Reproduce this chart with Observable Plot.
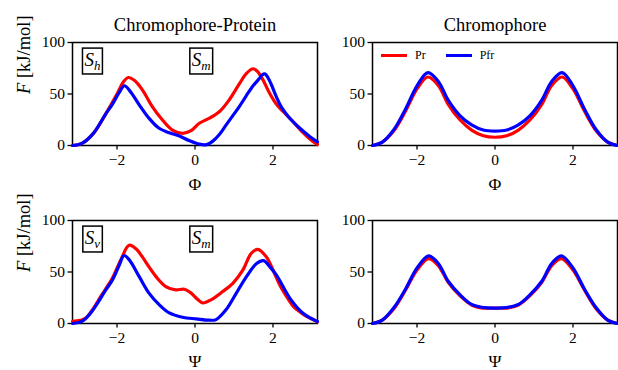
<!DOCTYPE html>
<html>
<head>
<meta charset="utf-8">
<script src="https://cdn.jsdelivr.net/npm/d3@7"></script>
<script src="https://cdn.jsdelivr.net/npm/@observablehq/plot@0.6"></script>
<style>
  html, body { margin: 0; padding: 0; background: #fff; }
  #chart { position: relative; width: 618px; height: 370px; font-family: "Liberation Serif", "DejaVu Serif", serif; }
  #chart svg { position: absolute; background: transparent !important; font-family: "Liberation Serif", "DejaVu Serif", serif !important; overflow: visible !important; }
  #chart svg text { font-family: "Liberation Serif", "DejaVu Serif", serif !important; }
  .legend { position: absolute; display: flex; align-items: center; font: 12px "Liberation Serif", serif; color: #000; line-height: 14px; }
  .legend .sw { display: inline-block; width: 26px; height: 3px; margin-right: 8px; }
  .legend .lab { margin-right: 20px; }
  #err { position: absolute; left: 0; top: 0; color: #c00; font: 10px monospace; white-space: pre; }
</style>
</head>
<body>
<div id="chart"></div>
<div id="err"></div>
<script>
// ---------------- data ----------------
const seriesNames = ["Pr", "Pfr"];
const seriesColors = ["#ff0000", "#0000ff"];
const columnTitles = ["Chromophore-Protein", "Chromophore"];
const rowAngles = ["Φ", "Ψ"];
const yLabel = "F [kJ/mol]";
const xTicks = [-2, 0, 2];
const yTicks = [0, 50, 100];

// Chromophore-Protein, Φ
const cpPhiPrX  = [-3.14,-2.9,-2.6,-2.3,-2.0,-1.85,-1.71,-1.55,-1.35,-1.1,-0.84,-0.58,-0.32,-0.1,0.11,0.37,0.63,0.88,1.14,1.32,1.49,1.6,1.74,1.91,2.09,2.26,2.52,2.77,3.03,3.14];
const cpPhiPrF  = [0,2,12,30,50,61,66,63,54,38,25,15,11.8,14.4,21.6,26.5,33,44.4,60,70,74.5,72,64,51,40,33,23,12.4,3.6,1];
const cpPhiPfrX = [-3.14,-2.9,-2.6,-2.3,-2.12,-1.95,-1.81,-1.65,-1.43,-1.18,-0.92,-0.66,-0.4,-0.14,0.11,0.3,0.45,0.63,0.8,0.97,1.14,1.31,1.49,1.65,1.72,1.79,1.87,1.96,2.09,2.22,2.43,2.69,2.95,3.14];
const cpPhiPfrF = [0,2,12,30,40,51,58,52,39.5,26.5,16.7,12.4,9.2,4.6,1.3,0.8,4,11,20,29,38,48,58,65,68.5,69.5,66,59,47,37,26.5,16.7,8.5,3.6];

// Chromophore, Φ
const cPhiX    = [-3.14,-2.9,-2.6,-2.3,-2.0,-1.72,-1.45,-1.2,-0.9,-0.6,-0.3,0,0.3,0.6,0.9,1.2,1.45,1.72,2.0,2.3,2.6,2.9,3.14];
const cPhiPrF  = [0,3,14,33,55,66.5,58,40,25,15,9.5,8,9.5,15,25,40,58,66.5,55,33,14,3,0];
const cPhiPfrF = [0,3,15,35,58,70.8,62,44,29,20,15,14,15,20,29,44,62,70.8,58,35,15,3,0];

// Chromophore-Protein, Ψ
const cpPsiPrX  = [-3.14,-2.95,-2.81,-2.6,-2.47,-2.3,-2.12,-1.9,-1.69,-1.5,-1.35,-1.18,-1.0,-0.75,-0.49,-0.27,-0.1,0.08,0.2,0.41,0.71,0.97,1.23,1.44,1.61,1.83,2.0,2.17,2.35,2.52,2.7,2.86,3.14];
const cpPsiPrF  = [2,3,5,15,23,33,44,62,76,72,64.7,55,45.5,35.9,32.7,33.3,29.5,23,19.9,23,31,39,52,68,72,64.7,52,37.5,26,16.7,11,7,1.6];
const cpPsiPfrX = [-3.14,-2.9,-2.7,-2.47,-2.3,-2.12,-1.95,-1.82,-1.69,-1.43,-1.18,-0.92,-0.66,-0.32,0.03,0.37,0.54,0.8,1.06,1.32,1.58,1.76,1.92,2.09,2.43,2.77,3.14];
const cpPsiPfrF = [0,2,9,21.5,32,42,56,66,62,45.5,29.5,18.3,10.3,6.1,4.5,3.2,3.8,13.5,29.5,45.5,58.3,61,55,47,24.7,10,2];

// Chromophore, Ψ
const cPsiX    = [-3.14,-2.9,-2.6,-2.3,-2.0,-1.7,-1.45,-1.2,-0.9,-0.6,-0.3,0,0.3,0.6,0.9,1.2,1.45,1.7,2.0,2.3,2.6,2.9,3.14];
const cPsiPrF  = [0,3,14,32,52,63,56,40,27,18,15,15,15,18,27,40,56,63,52,32,14,3,0];
const cPsiPfrF = [0,3,15,33,54,65.7,58,41,28,18.5,15.5,15,15.5,18.5,28,41,58,65.7,54,33,15,3,0];

// state annotations (boxed labels) in the Chromophore-Protein panels
const statePhiX = [-2.63, 0.16];
const statePhiF = [83, 83];
const statePhiSub = ["h", "m"];
const statePsiX = [-2.63, 0.16];
const statePsiF = [83, 83];
const statePsiSub = ["v", "m"];

// ---------------- helpers ----------------
function rows(xs, fs, name) { return xs.map((x, i) => ({x, f: fs[i], series: name})); }

const FONT = "Liberation Serif";
const fmtX = d => (d < 0 ? "\u2212" : "") + Math.abs(d);

function panel({data, title, angle, ylabel, states, top, left, height, marginTop, labelDy}) {
  const marks = [
    Plot.frame({stroke: "black", strokeWidth: 1.5}),
    Plot.axisX({ticks: xTicks, tickFormat: fmtX, tickSize: 4.5, tickPadding: 4, fontSize: 15.5, label: null, strokeWidth: 1.3, fontFamily: FONT}),
    Plot.axisY({ticks: yTicks, tickSize: 4.5, tickPadding: 3, fontSize: 15.5, label: null, strokeWidth: 1.3, fontFamily: FONT}),
    Plot.line(data, {x: "x", y: "f", z: "series", stroke: "series", strokeWidth: 3.2, curve: "catmull-rom"}),
    Plot.text([angle], {frameAnchor: "bottom", dy: labelDy, fontSize: 17.5, lineAnchor: "middle", fontFamily: FONT})
  ];
  if (title) marks.push(Plot.text([title], {frameAnchor: "top", dy: -17, fontSize: 18.5, lineAnchor: "middle", fontFamily: FONT}));
  if (ylabel) marks.push(Plot.text([ylabel], {frameAnchor: "left", dx: -48, rotate: -90, fontSize: 18.5, lineAnchor: "middle", fontFamily: FONT}));
  if (states) marks.push(Plot.text(states, {x: "x", y: "f", text: d => "S_" + d.sub, fontSize: 19, lineAnchor: "middle", fontFamily: FONT}));
  const svg = Plot.plot({
    width: 318, height, marginLeft: 72, marginRight: 1, marginTop, marginBottom: height - marginTop - 103,
    x: {domain: [-Math.PI, Math.PI]},
    y: {domain: [0, 100]},
    color: {domain: seriesNames, range: seriesColors},
    marks
  });
  svg.style.left = left + "px";
  svg.style.top = top + "px";
  svg.style.background = "transparent";
  document.getElementById("chart").appendChild(svg);
  d3.select(svg).selectAll("text").each(function () {
    const t = d3.select(this);
    const txt = this.textContent;
    if (txt === yLabel) {
      t.text(null);
      t.append("tspan").attr("font-style", "italic").text("F");
      t.append("tspan").style("white-space", "pre").text(" [kJ/mol]");
    } else {
      const m = /^S_(\w)$/.exec(txt);
      if (!m) return;
      t.text(null);
      t.append("tspan").attr("font-style", "italic").text("S");
      t.append("tspan").attr("font-style", "italic").attr("font-size", "0.68em").attr("dy", "0.3em").text(m[1]);
      const b = this.getBBox();
      const pad = 2;
      const r = document.createElementNS("http://www.w3.org/2000/svg", "rect");
      this.parentNode.insertBefore(r, this);
      d3.select(r)
        .attr("transform", t.attr("transform"))
        .attr("x", b.x - pad).attr("y", b.y - pad + 1)
        .attr("width", b.width + 2 * pad).attr("height", b.height + 2 * pad - 2)
        .attr("fill", "white").attr("stroke", "black").attr("stroke-width", 1.5);
    }
  });
  return svg;
}

try {
  const cpPhi = rows(cpPhiPrX, cpPhiPrF, "Pr").concat(rows(cpPhiPfrX, cpPhiPfrF, "Pfr"));
  const cPhi  = rows(cPhiX, cPhiPrF, "Pr").concat(rows(cPhiX, cPhiPfrF, "Pfr"));
  const cpPsi = rows(cpPsiPrX, cpPsiPrF, "Pr").concat(rows(cpPsiPfrX, cpPsiPfrF, "Pfr"));
  const cPsi  = rows(cPsiX, cPsiPrF, "Pr").concat(rows(cPsiX, cPsiPfrF, "Pfr"));

  const statesPhi = statePhiX.map((x, i) => ({x, f: statePhiF[i], sub: statePhiSub[i]}));
  const statesPsi = statePsiX.map((x, i) => ({x, f: statePsiF[i], sub: statePsiSub[i]}));

  panel({data: cpPhi, title: columnTitles[0], angle: rowAngles[0], ylabel: yLabel, states: statesPhi, top: 0, left: 0, height: 190, marginTop: 42, labelDy: 39});
  panel({data: cPhi, title: columnTitles[1], angle: rowAngles[0], top: 0, left: 300, height: 190, marginTop: 42, labelDy: 39});
  panel({data: cpPsi, angle: rowAngles[1], ylabel: yLabel, states: statesPsi, top: 185, left: 0, height: 185, marginTop: 35, labelDy: 38});
  panel({data: cPsi, angle: rowAngles[1], top: 185, left: 300, height: 185, marginTop: 35, labelDy: 38});

  // legend (top-right panel)
  const legend = document.createElement("div");
  legend.className = "legend";
  legend.style.left = "381px";
  legend.style.top = "48px";
  seriesNames.forEach((n, i) => {
    const sw = document.createElement("span");
    sw.className = "sw";
    sw.style.background = seriesColors[i];
    const lab = document.createElement("span");
    lab.className = "lab";
    lab.textContent = n;
    legend.appendChild(sw);
    legend.appendChild(lab);
  });
  document.getElementById("chart").appendChild(legend);
} catch (e) {
  document.getElementById("err").textContent = String(e && e.stack || e);
}
</script>
</body>
</html>
